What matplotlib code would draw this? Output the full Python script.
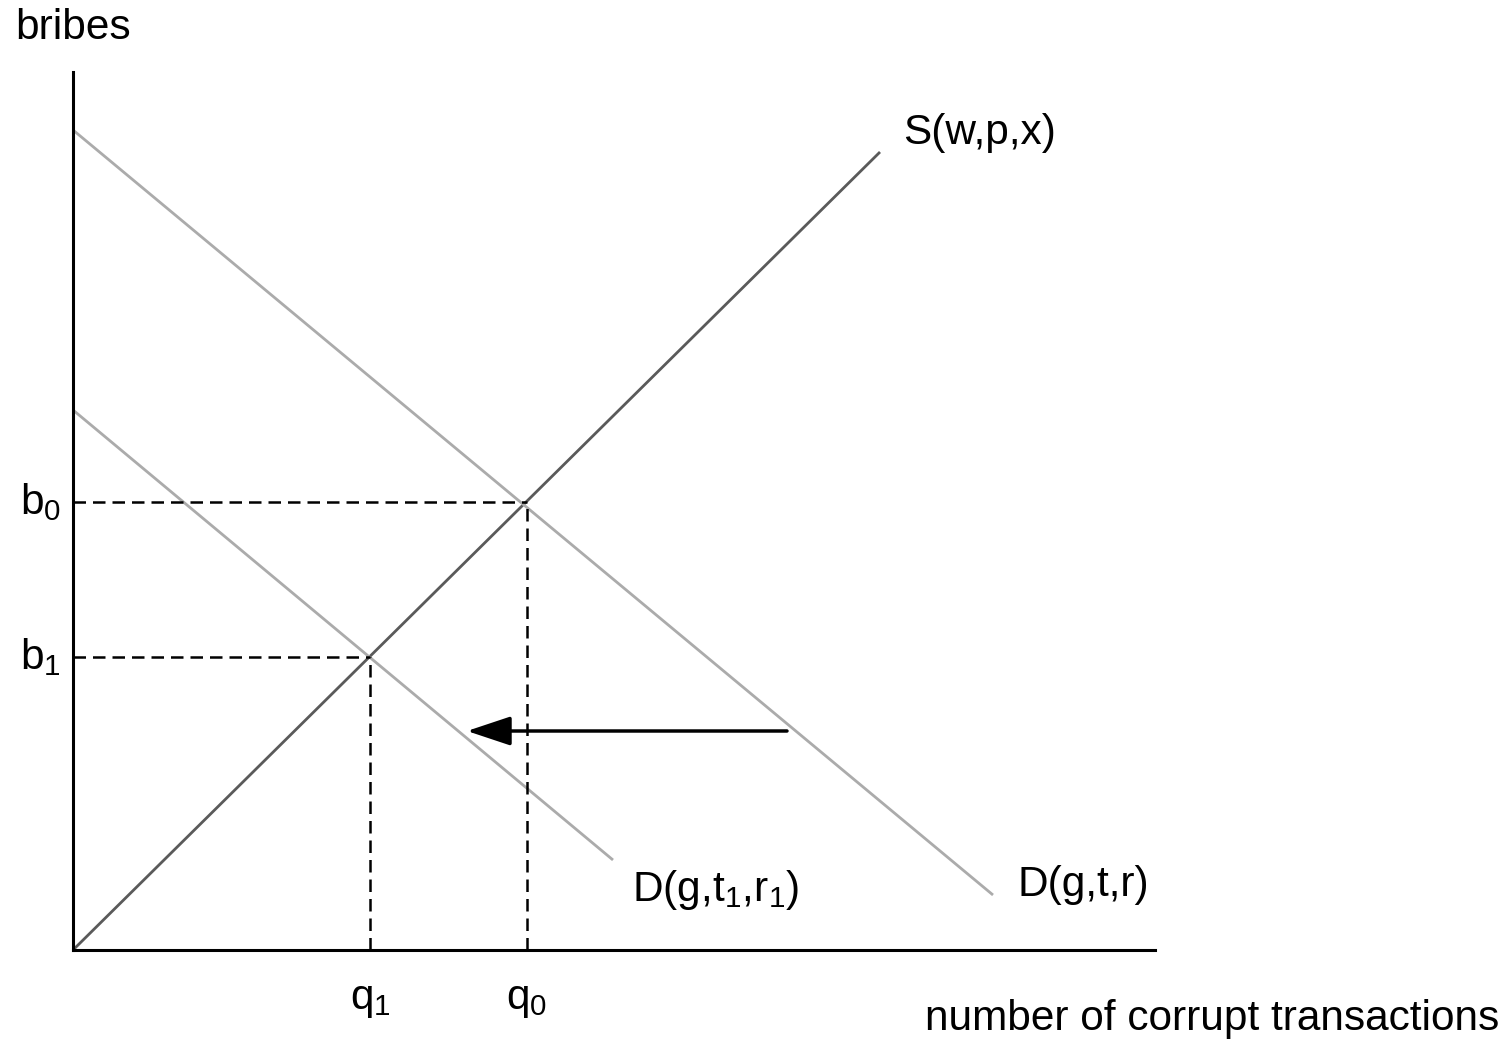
import matplotlib.pyplot as plt

plt.rcParams['font.family'] = ['Liberation Sans', 'DejaVu Sans']
plt.rcParams['mathtext.fontset'] = 'custom'
plt.rcParams['mathtext.rm'] = 'Liberation Sans'
plt.rcParams['mathtext.it'] = 'Liberation Sans'
plt.rcParams['mathtext.bf'] = 'Liberation Sans'

# curves (quantity, bribes) in chart units
supply_q = [0.0, 8.07]
supply_b = [0.0, 7.98]
demand0_q = [0.0, 9.20]
demand0_b = [8.20, 0.55]
demand1_q = [0.0, 5.40]
demand1_b = [5.40, 0.90]

# equilibria
q0, b0 = 4.54, 4.48
q1, b1 = 2.97, 2.93

# shift arrow
arrow_start = 7.14
arrow_end = 3.94
arrow_level = 2.19

W, H = 1506, 1041
fig = plt.figure(figsize=(W / 100, H / 100), dpi=100)
ax = fig.add_axes([73 / W, (H - 950) / H, (1155 - 73) / W, (950 - 72) / H])
ax.set_xlim(0, 10.82)
ax.set_ylim(0, 8.78)
for s in ['top', 'right']:
    ax.spines[s].set_visible(False)
for s in ['left', 'bottom']:
    ax.spines[s].set_linewidth(2.2)
    ax.spines[s].set_color('black')
ax.set_xticks([])
ax.set_yticks([])

ax.plot(supply_q, supply_b, color='#5a5a5a', lw=2.0, solid_capstyle='butt')
ax.plot(demand0_q, demand0_b, color='#ababab', lw=2.0, solid_capstyle='butt')
ax.plot(demand1_q, demand1_b, color='#ababab', lw=2.0, solid_capstyle='butt')

# dashed guides
dash = dict(color='black', lw=1.8, dashes=(5.0, 2.8))
ax.plot([0, q0], [b0, b0], **dash)
ax.plot([q0, q0], [0, b0], **dash)
ax.plot([0, q1], [b1, b1], **dash)
ax.plot([q1, q1], [0, b1], **dash)

ax.annotate('', xy=(arrow_end, arrow_level), xytext=(arrow_start, arrow_level),
            arrowprops=dict(arrowstyle='-|>,head_length=0.9,head_width=0.3',
                            color='black', lw=2.5, mutation_scale=30,
                            shrinkA=0, shrinkB=0))

fs = 30.5
ax.text(-0.58, 9.22, 'bribes', fontsize=fs, va='center', ha='left', clip_on=False)
ax.text(-0.53, b0, r'b$_0$', fontsize=fs, va='center', ha='left', clip_on=False)
ax.text(-0.53, b1, r'b$_1$', fontsize=fs, va='center', ha='left', clip_on=False)
ax.text(q1, -0.5, r'q$_1$', fontsize=fs, va='center', ha='center', clip_on=False)
ax.text(q0, -0.5, r'q$_0$', fontsize=fs, va='center', ha='center', clip_on=False)
ax.text(8.52, -0.69, 'number of corrupt transactions', fontsize=fs,
        va='center', ha='left', clip_on=False)
ax.text(8.30, 8.17, 'S(w,p,x)', fontsize=fs, va='center', ha='left', clip_on=False)
ax.text(5.59, 0.60, r'D(g,t$_1$,r$_1$)', fontsize=fs, va='center', ha='left', clip_on=False)
ax.text(9.45, 0.65, 'D(g,t,r)', fontsize=fs, va='center', ha='left', clip_on=False)

fig.savefig('out.png', dpi=100)
